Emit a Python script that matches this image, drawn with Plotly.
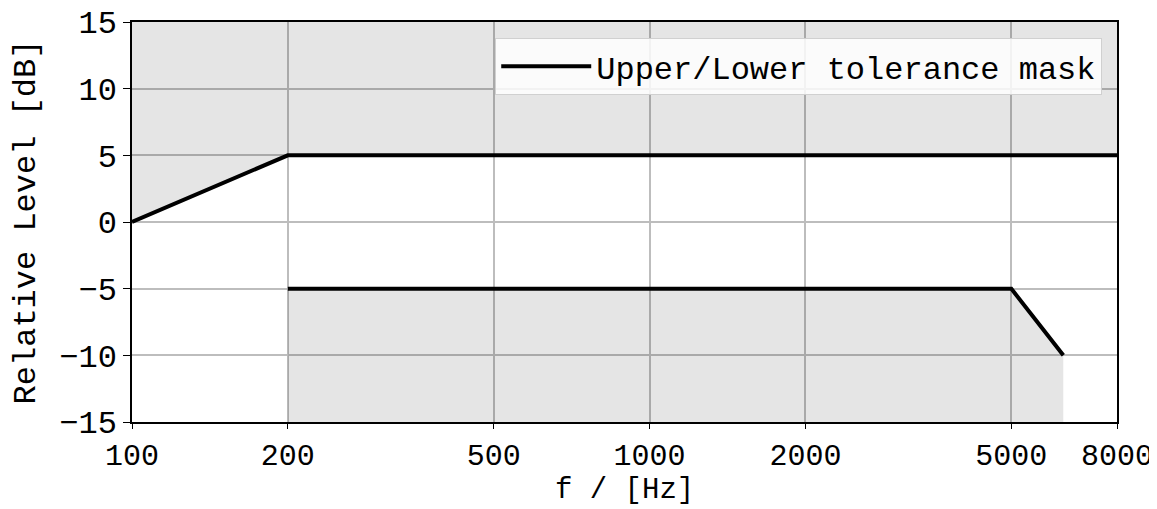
import math
import plotly.graph_objects as go

# Tolerance mask data
upper_freq = [100, 200, 8000]
upper_level = [0, 5, 5]
lower_freq = [200, 5000, 6300]
lower_level = [-5, -5, -10]

y_top = 15
y_bottom = -15
x_ticks = [100, 200, 500, 1000, 2000, 5000, 8000]
y_ticks = [-15, -10, -5, 0, 5, 10, 15]

FONT = "Liberation Mono, DejaVu Sans Mono, monospace"
fill_col = "rgba(0,0,0,0.1)"

fig = go.Figure()

# shaded region above upper mask
fig.add_trace(go.Scatter(
    x=upper_freq + upper_freq[::-1],
    y=upper_level + [y_top] * len(upper_freq),
    fill="toself", fillcolor=fill_col, line=dict(width=0),
    mode="lines", showlegend=False, hoverinfo="skip"))
# shaded region below lower mask
fig.add_trace(go.Scatter(
    x=lower_freq + lower_freq[::-1],
    y=lower_level + [y_bottom] * len(lower_freq),
    fill="toself", fillcolor=fill_col, line=dict(width=0),
    mode="lines", showlegend=False, hoverinfo="skip"))

fig.add_trace(go.Scatter(
    x=upper_freq, y=upper_level, mode="lines",
    line=dict(color="black", width=4),
    name="Upper/Lower tolerance mask", legendgroup="m"))
fig.add_trace(go.Scatter(
    x=lower_freq, y=lower_level, mode="lines",
    line=dict(color="black", width=4),
    name="Upper/Lower tolerance mask", legendgroup="m", showlegend=False))

fig.update_layout(
    width=1157, height=501,
    margin=dict(l=124, r=48, t=14, b=87),
    plot_bgcolor="white", paper_bgcolor="white",
    font=dict(family=FONT, size=32, color="black"),
    legend=dict(x=0.985, y=0.96, xanchor="right", yanchor="top",
                bgcolor="rgba(255,255,255,0.85)", bordercolor="#d0d0d0",
                borderwidth=1, font=dict(size=32, family=FONT),
                itemwidth=90),
    xaxis=dict(type="log", range=[math.log10(100), math.log10(8000)],
               tickvals=x_ticks, ticktext=[str(v) for v in x_ticks],
               tickfont=dict(size=30),
               showgrid=True, gridcolor="#bdbdbd", gridwidth=1.5,
               showline=True, linecolor="black", linewidth=1.5, mirror=True,
               ticks="outside", ticklen=5, tickcolor="black",
               ticklabeloverflow="allow", automargin=False,
               zeroline=False),
    yaxis=dict(range=[y_bottom, y_top], tickvals=y_ticks,
               showgrid=True, gridcolor="#bdbdbd", gridwidth=1.5,
               showline=True, linecolor="black", linewidth=1.5, mirror=True,
               ticks="outside", ticklen=7, tickcolor="black",
               ticklabeloverflow="allow", automargin=False,
               title=dict(text="Relative Level [dB]", font=dict(size=32)),
               zeroline=False),
    annotations=[dict(text="f / [Hz]", xref="paper", yref="paper",
                      x=0.5, y=0, xanchor="center", yanchor="top",
                      yshift=-50, showarrow=False,
                      font=dict(size=29, family=FONT, color="black"))],
)

fig.write_html("out.html")
